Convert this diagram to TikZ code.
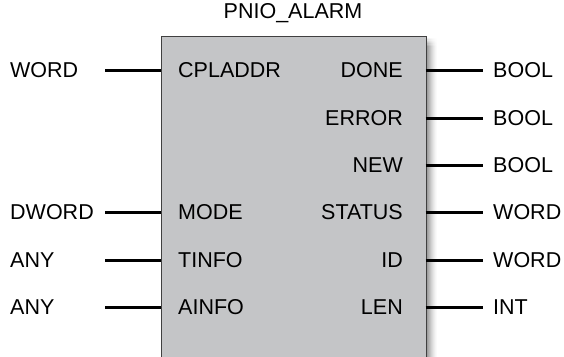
\documentclass[tikz,border=0pt]{standalone}
\usepackage{fontspec}
\setmainfont{Liberation Sans}
\begin{document}
\begin{tikzpicture}[x=1pt,y=-1pt,
  lbl/.style={font=\fontsize{21.5}{25}\selectfont, inner sep=0pt},
  pin/.style={line width=3pt, black},
  blockbox/.style={draw=black!75, line width=0.8pt, fill={rgb,255:red,196;green,197;blue,199}}]
\useasboundingbox (0,0) rectangle (564,356);
% shadow
\foreach \i/\o in {0/42,1/38,2/33,3/28,4/23,5/18,6/14,7/10,8/7,9/4,10/2}{
  \fill[black!\o] (426+\i,46) rectangle (427.05+\i,358);
  \foreach \j in {0,...,5}{
    \pgfmathsetmacro{\c}{\o*(\j+1)/7}
    \fill[black!\c] (426+\i,38+\j*1.34) rectangle (427.05+\i,39.4+\j*1.34);
  }
}
\node[blockbox, minimum width=265pt, minimum height=322pt, anchor=north west, inner sep=0pt] (blk) at (160.5,36) {};
\node[lbl] (title) at (293,13) {PNIO\_ALARM};
% left pins
\foreach \y/\n/\t/\p in {70/a/WORD/CPLADDR, 212/b/DWORD/MODE, 260/c/ANY/TINFO, 307/d/ANY/AINFO}{
  \node[lbl, anchor=west] (lt\n) at (10,\y) {\t};
  \node[lbl, anchor=west] (lp\n) at (178,\y) {\p};
  \coordinate (ls\n) at (105,\y);
  \coordinate (le\n) at (160.5,\y);
  \draw[pin] (ls\n) -- (le\n);
}
% right pins
\foreach \y/\n/\t/\p in {70/a/BOOL/DONE, 118/b/BOOL/ERROR, 165/c/BOOL/NEW, 212/d/WORD/STATUS, 260/e/WORD/ID, 307/f/INT/LEN}{
  \node[lbl, anchor=east] (rp\n) at (403,\y) {\p};
  \node[lbl, anchor=west] (rt\n) at (493,\y) {\t};
  \coordinate (rs\n) at (425.5,\y);
  \coordinate (re\n) at (483,\y);
  \draw[pin] (rs\n) -- (re\n);
}
\end{tikzpicture}
\end{document}
